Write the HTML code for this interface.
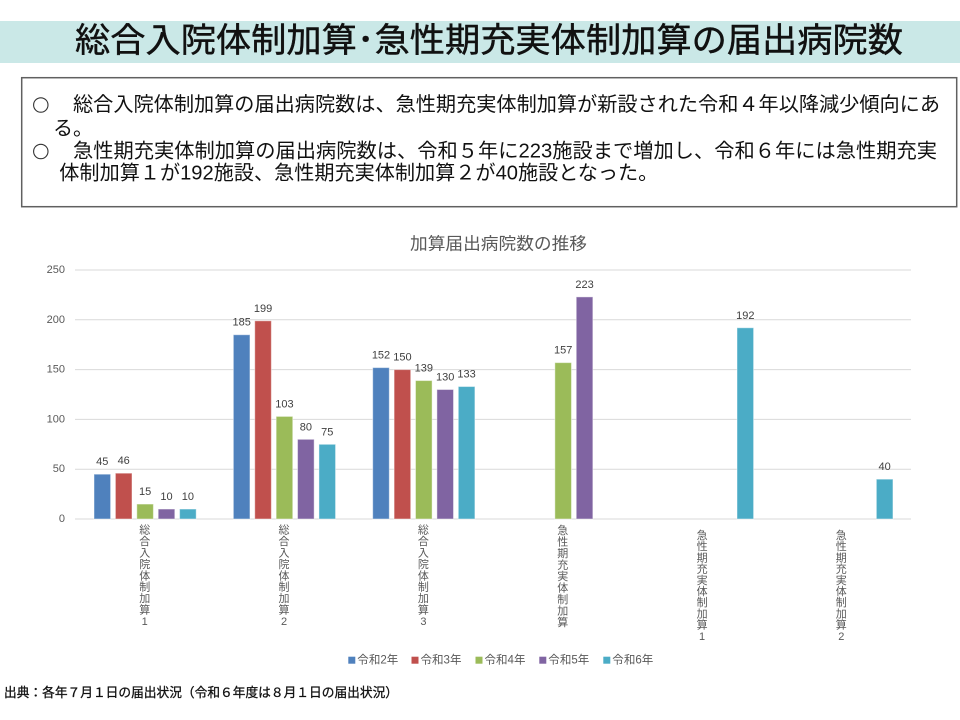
<!DOCTYPE html>
<html lang="ja">
<head>
<meta charset="utf-8">
<style>
  html, body { margin: 0; padding: 0; background: #fff; }
  svg { display: block; }
  text { font-family: "Liberation Sans", "Noto Sans CJK JP", sans-serif; }
</style>
</head>
<body>
<svg width="960" height="720" viewBox="0 0 960 720" xmlns="http://www.w3.org/2000/svg">
  <rect x="0" y="0" width="960" height="720" fill="#fff"/>

  <!-- Title band -->
  <rect x="0" y="21" width="960" height="42" fill="#CAE8E7"/>
  <text x="75" y="41" font-size="34" font-weight="400" fill="#111" stroke="#111" stroke-width="0.45" dominant-baseline="central" textLength="828" lengthAdjust="spacingAndGlyphs">総合入院体制加算･急性期充実体制加算の届出病院数</text>

  <!-- Summary box -->
  <rect x="21.7" y="77.7" width="935" height="129" fill="#fff" stroke="#606060" stroke-width="1.5"/>
  <circle cx="40.8" cy="105" r="7.2" fill="none" stroke="#333" stroke-width="1.1"/>
  <text x="73" y="105" font-size="20" fill="#111" dominant-baseline="central" textLength="867" lengthAdjust="spacingAndGlyphs">総合入院体制加算の届出病院数は、急性期充実体制加算が新設された令和４年以降減少傾向にあ</text>
  <text x="53" y="129" font-size="20" fill="#111" dominant-baseline="central">る。</text>
  <circle cx="40.8" cy="151.5" r="7.2" fill="none" stroke="#333" stroke-width="1.1"/>
  <text x="73" y="151.5" font-size="20" fill="#111" dominant-baseline="central" textLength="864" lengthAdjust="spacingAndGlyphs">急性期充実体制加算の届出病院数は、令和５年に223施設まで増加し、令和６年には急性期充実</text>
  <text x="59.3" y="173.5" font-size="20" fill="#111" dominant-baseline="central" textLength="599" lengthAdjust="spacingAndGlyphs">体制加算１が192施設、急性期充実体制加算２が40施設となった。</text>

  <!-- Chart title -->
  <text x="410" y="244" font-size="17" fill="#595959" dominant-baseline="central" textLength="177" lengthAdjust="spacingAndGlyphs">加算届出病院数の推移</text>

  <!-- Gridlines -->
  <g stroke="#D9D9D9" stroke-width="1">
    <line x1="75" y1="270" x2="911" y2="270"/>
    <line x1="75" y1="319.8" x2="911" y2="319.8"/>
    <line x1="75" y1="369.6" x2="911" y2="369.6"/>
    <line x1="75" y1="419.4" x2="911" y2="419.4"/>
    <line x1="75" y1="469.2" x2="911" y2="469.2"/>
    <line x1="75" y1="519" x2="911" y2="519"/>
  </g>

  <!-- Y axis labels -->
  <g font-size="11" fill="#595959" text-anchor="end" dominant-baseline="central">
    <text x="65" y="270">250</text>
    <text x="65" y="319.8">200</text>
    <text x="65" y="369.6">150</text>
    <text x="65" y="419.4">100</text>
    <text x="65" y="469.2">50</text>
    <text x="65" y="519">0</text>
  </g>

  <!-- Bars -->
  <g stroke="#ffffff" stroke-opacity="0.45" stroke-width="1">
    <rect x="94" y="474.18" width="16.6" height="44.82" fill="#4F81BD"/>
    <rect x="115.4" y="473.18" width="16.6" height="45.82" fill="#C0504D"/>
    <rect x="136.8" y="504.06" width="16.6" height="14.94" fill="#9BBB59"/>
    <rect x="158.2" y="509.04" width="16.6" height="9.96" fill="#8064A2"/>
    <rect x="179.6" y="509.04" width="16.6" height="9.96" fill="#4BACC6"/>

    <rect x="233.35" y="334.74" width="16.6" height="184.26" fill="#4F81BD"/>
    <rect x="254.75" y="320.8" width="16.6" height="198.2" fill="#C0504D"/>
    <rect x="276.15" y="416.41" width="16.6" height="102.59" fill="#9BBB59"/>
    <rect x="297.55" y="439.32" width="16.6" height="79.68" fill="#8064A2"/>
    <rect x="318.95" y="444.3" width="16.6" height="74.7" fill="#4BACC6"/>

    <rect x="372.7" y="367.61" width="16.6" height="151.39" fill="#4F81BD"/>
    <rect x="394.1" y="369.6" width="16.6" height="149.4" fill="#C0504D"/>
    <rect x="415.5" y="380.56" width="16.6" height="138.44" fill="#9BBB59"/>
    <rect x="436.9" y="389.52" width="16.6" height="129.48" fill="#8064A2"/>
    <rect x="458.3" y="386.53" width="16.6" height="132.47" fill="#4BACC6"/>

    <rect x="554.85" y="362.63" width="16.6" height="156.37" fill="#9BBB59"/>
    <rect x="576.25" y="296.89" width="16.6" height="222.11" fill="#8064A2"/>

    <rect x="737.0" y="327.77" width="16.6" height="191.23" fill="#4BACC6"/>

    <rect x="876.35" y="479.16" width="16.6" height="39.84" fill="#4BACC6"/>
  </g>

  <!-- Data labels -->
  <g font-size="11" fill="#404040" text-anchor="middle" dominant-baseline="central">
    <text x="102.3" y="462.2">45</text>
    <text x="123.7" y="461.2">46</text>
    <text x="145.1" y="492.1">15</text>
    <text x="166.5" y="497">10</text>
    <text x="187.9" y="497">10</text>

    <text x="241.65" y="322.7">185</text>
    <text x="263.05" y="308.8">199</text>
    <text x="284.45" y="404.4">103</text>
    <text x="305.85" y="427.3">80</text>
    <text x="327.25" y="432.3">75</text>

    <text x="381" y="355.6">152</text>
    <text x="402.4" y="357.6">150</text>
    <text x="423.8" y="368.6">139</text>
    <text x="445.2" y="377.5">130</text>
    <text x="466.6" y="374.5">133</text>

    <text x="563.15" y="350.6">157</text>
    <text x="584.55" y="284.9">223</text>

    <text x="745.3" y="315.8">192</text>
    <text x="884.65" y="467.2">40</text>
  </g>

  <!-- Category labels (vertical) -->
  <g font-size="11" fill="#595959" text-anchor="middle" dominant-baseline="central">
    <text x="144.7" y="530.7">
      <tspan x="144.7" dy="0">総</tspan><tspan x="144.7" dy="11.4">合</tspan><tspan x="144.7" dy="11.4">入</tspan><tspan x="144.7" dy="11.4">院</tspan><tspan x="144.7" dy="11.4">体</tspan><tspan x="144.7" dy="11.4">制</tspan><tspan x="144.7" dy="11.4">加</tspan><tspan x="144.7" dy="11.4">算</tspan><tspan x="144.7" dy="11.4">1</tspan>
    </text>
    <text x="284" y="530.7">
      <tspan x="284" dy="0">総</tspan><tspan x="284" dy="11.4">合</tspan><tspan x="284" dy="11.4">入</tspan><tspan x="284" dy="11.4">院</tspan><tspan x="284" dy="11.4">体</tspan><tspan x="284" dy="11.4">制</tspan><tspan x="284" dy="11.4">加</tspan><tspan x="284" dy="11.4">算</tspan><tspan x="284" dy="11.4">2</tspan>
    </text>
    <text x="423.4" y="530.7">
      <tspan x="423.4" dy="0">総</tspan><tspan x="423.4" dy="11.4">合</tspan><tspan x="423.4" dy="11.4">入</tspan><tspan x="423.4" dy="11.4">院</tspan><tspan x="423.4" dy="11.4">体</tspan><tspan x="423.4" dy="11.4">制</tspan><tspan x="423.4" dy="11.4">加</tspan><tspan x="423.4" dy="11.4">算</tspan><tspan x="423.4" dy="11.4">3</tspan>
    </text>
    <text x="562.7" y="531">
      <tspan x="562.7" dy="0">急</tspan><tspan x="562.7" dy="11.5">性</tspan><tspan x="562.7" dy="11.5">期</tspan><tspan x="562.7" dy="11.5">充</tspan><tspan x="562.7" dy="11.5">実</tspan><tspan x="562.7" dy="11.5">体</tspan><tspan x="562.7" dy="11.5">制</tspan><tspan x="562.7" dy="11.5">加</tspan><tspan x="562.7" dy="11.5">算</tspan>
    </text>
    <text x="702.1" y="536">
      <tspan x="702.1" dy="0">急</tspan><tspan x="702.1" dy="11.2">性</tspan><tspan x="702.1" dy="11.2">期</tspan><tspan x="702.1" dy="11.2">充</tspan><tspan x="702.1" dy="11.2">実</tspan><tspan x="702.1" dy="11.2">体</tspan><tspan x="702.1" dy="11.2">制</tspan><tspan x="702.1" dy="11.2">加</tspan><tspan x="702.1" dy="11.2">算</tspan><tspan x="702.1" dy="11.2">1</tspan>
    </text>
    <text x="841.3" y="536">
      <tspan x="841.3" dy="0">急</tspan><tspan x="841.3" dy="11.2">性</tspan><tspan x="841.3" dy="11.2">期</tspan><tspan x="841.3" dy="11.2">充</tspan><tspan x="841.3" dy="11.2">実</tspan><tspan x="841.3" dy="11.2">体</tspan><tspan x="841.3" dy="11.2">制</tspan><tspan x="841.3" dy="11.2">加</tspan><tspan x="841.3" dy="11.2">算</tspan><tspan x="841.3" dy="11.2">2</tspan>
    </text>
  </g>

  <!-- Legend -->
  <g font-size="11.5" fill="#595959" dominant-baseline="central">
    <rect x="348.3" y="656.7" width="7" height="7" fill="#4F81BD"/>
    <text x="357.3" y="660.3" textLength="41" lengthAdjust="spacingAndGlyphs">令和2年</text>
    <rect x="411.5" y="656.7" width="7" height="7" fill="#C0504D"/>
    <text x="420.5" y="660.3" textLength="41" lengthAdjust="spacingAndGlyphs">令和3年</text>
    <rect x="475.5" y="656.7" width="7" height="7" fill="#9BBB59"/>
    <text x="484.5" y="660.3" textLength="41" lengthAdjust="spacingAndGlyphs">令和4年</text>
    <rect x="539.3" y="656.7" width="7" height="7" fill="#8064A2"/>
    <text x="548.3" y="660.3" textLength="41" lengthAdjust="spacingAndGlyphs">令和5年</text>
    <rect x="603.3" y="656.7" width="7" height="7" fill="#4BACC6"/>
    <text x="612.3" y="660.3" textLength="41" lengthAdjust="spacingAndGlyphs">令和6年</text>
  </g>

  <!-- Footer -->
  <text x="4" y="692.7" font-size="13" font-weight="400" fill="#111" stroke="#111" stroke-width="0.3" dominant-baseline="central" textLength="394" lengthAdjust="spacingAndGlyphs">出典：各年７月１日の届出状況（令和６年度は８月１日の届出状況）</text>
</svg>
</body>
</html>
